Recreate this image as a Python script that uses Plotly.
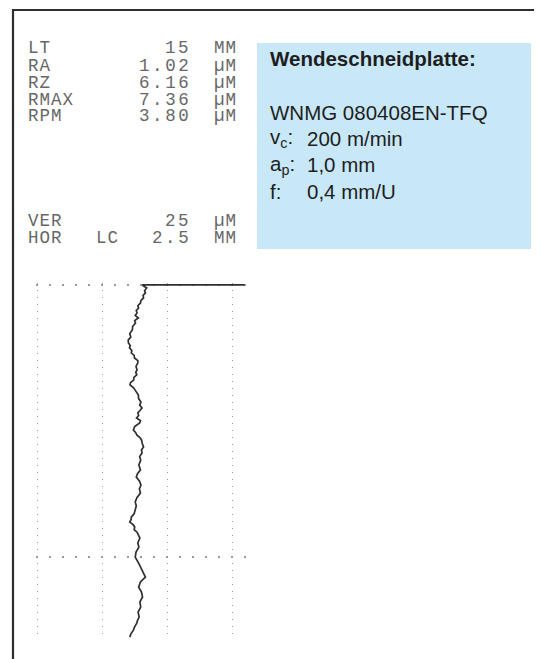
import plotly.graph_objects as go

# figure size in px
W, H = 542, 659
# the page body has an 8px default margin, so positions are shifted by it
OFF = 8

# surface profile (position along the stylus path in mm, height in µm)
profile_pos_mm = [
    0.00, 0.00, 0.13, 0.24, 0.34, 0.45, 0.55, 0.66, 0.77, 0.88, 0.98, 1.09, 1.19, 1.30,
    1.41, 1.52, 1.62, 1.77, 1.92, 2.07, 2.22, 2.35, 2.47, 2.58, 2.68, 2.79, 2.90, 3.00,
    3.11, 3.22, 3.32, 3.47, 3.62, 3.72, 3.83, 3.94, 4.05, 4.16, 4.26, 4.37, 4.47, 4.58,
    4.69, 4.84, 4.99, 5.12, 5.24, 5.35, 5.45, 5.56, 5.67, 5.78, 5.88, 6.03, 6.18, 6.29,
    6.39, 6.50, 6.60, 6.75, 6.90, 7.03, 7.16, 7.31, 7.46, 7.67, 7.88, 8.03, 8.18, 8.35,
    8.52, 8.69, 8.86, 9.05, 9.24, 9.41, 9.59, 9.74, 9.89, 10.00, 10.10, 10.21, 10.31,
    10.42, 10.53, 10.66, 10.78, 10.98, 11.17, 11.38, 11.59, 11.87, 12.14, 12.29, 12.44,
    12.65, 12.87, 13.08, 13.29, 13.50, 13.72, 13.93, 14.15, 14.28, 14.40, 14.55, 14.70,
    14.85, 15.00,
]
profile_height_um = [
    79.5, 40.3, 42.0, 41.2, 41.5, 40.6, 40.8, 39.8, 39.6, 38.6, 38.9, 38.0, 38.3, 37.6,
    38.8, 37.4, 37.7, 36.6, 36.5, 35.5, 35.9, 34.9, 35.0, 35.7, 35.4, 36.3, 36.1, 37.2,
    37.3, 38.6, 38.6, 37.9, 38.3, 37.8, 38.2, 37.1, 37.0, 35.8, 35.6, 36.9, 37.5, 38.0,
    38.8, 38.9, 39.8, 39.3, 40.2, 39.4, 38.6, 38.9, 38.1, 39.6, 39.3, 37.4, 36.9, 37.8,
    38.2, 39.4, 40.0, 40.3, 40.8, 40.0, 40.2, 39.3, 39.7, 39.0, 39.6, 38.5, 38.0, 39.2,
    39.8, 39.2, 39.6, 38.3, 37.6, 38.0, 37.4, 37.2, 36.1, 36.0, 35.5, 36.8, 37.4,
    37.2, 38.3, 38.8, 39.4, 38.6, 39.0, 37.9, 37.6, 39.0, 40.3, 40.8, 41.5,
    39.6, 38.9, 40.0, 40.4, 39.4, 39.7, 38.7, 39.1, 38.5, 38.2, 37.4, 36.9,
    36.0, 35.5,
]

# printer readout
param_labels = ["LT", "RA", "RZ", "RMAX", "RPM"]
param_values = ["15", "1.02", "6.16", "7.36", "3.80"]
param_units = ["MM", "µM", "µM", "µM", "µM"]
scale_labels = ["VER", "HOR"]
scale_values = ["25", "2.5"]
scale_units = ["µM", "MM"]

# insert data
insert_title = "Wendeschneidplatte:"
insert_type = "WNMG 080408EN-TFQ"
insert_keys = ["v<sub>c</sub>:", "a<sub>p</sub>:", "f:"]
insert_vals = ["200 m/min", "1,0 mm", "0,4 mm/U"]

grid_x_um = [0, 25, 50, 75]
grid_y_mm = [0, 11.6]


def px(x):
    return (x - OFF) / W


def py(y):
    return 1 - (y - OFF) / H


fig = go.Figure()

fig.add_trace(go.Scatter(
    x=profile_height_um, y=profile_pos_mm, mode="lines",
    line=dict(color="#2f2f2f", width=1.7),
    hoverinfo="skip", showlegend=False
))

# axes: plot area placed where the recorder grid sits
fig.update_xaxes(
    range=[-0.5, 80.2], domain=[px(35.7), px(246.5)],
    tickvals=grid_x_um, showticklabels=False, ticks="",
    showgrid=True, gridcolor="#9a9a9a", gridwidth=1.3, griddash="1px,6px",
    zeroline=False, showline=False
)
fig.update_yaxes(
    range=[15.1, -0.1], domain=[py(639.5), py(282.6)],
    tickvals=grid_y_mm, showticklabels=False, ticks="",
    showgrid=True, gridcolor="#9a9a9a", gridwidth=1.5, griddash="2px,11px",
    zeroline=False, showline=False
)

# frame lines and blue insert box
fig.add_shape(type="line", xref="paper", yref="paper",
              x0=px(12), x1=1, y0=py(10), y1=py(10),
              line=dict(color="#2e2e2e", width=2.2))
fig.add_shape(type="line", xref="paper", yref="paper",
              x0=px(13), x1=px(13), y0=py(9), y1=0,
              line=dict(color="#2e2e2e", width=2.2))
fig.add_shape(type="rect", xref="paper", yref="paper",
              x0=px(257), x1=px(531), y0=py(249), y1=py(43),
              fillcolor="#c8e8f8", line=dict(width=0), layer="below")

mono = dict(family="Liberation Mono", size=17.5, color="#676767")


def readout(text, x, y, anchor, spacing=1):
    text = '<span style="letter-spacing:%gpx">%s</span>' % (spacing, text)
    fig.add_annotation(text=text, x=px(x), y=py(y),
                       xref="paper", yref="paper", xanchor=anchor, yanchor="middle",
                       showarrow=False, font=mono)


row_y = [48, 66, 83, 100, 116]
for lab, val, unit, y in zip(param_labels, param_values, param_units, row_y):
    readout(lab, 26, y, "left")
    readout(val, 193, y, "right", 2.6)
    readout(unit, 212, y, "left")

scale_y = [221, 238]
for lab, val, unit, y in zip(scale_labels, scale_values, scale_units, scale_y):
    readout(lab, 26, y, "left")
    readout(val, 193, y, "right", 2.6)
    readout(unit, 212, y, "left")
readout("LC", 94, scale_y[1], "left")

sans = dict(family="Liberation Sans", size=20.5, color="#1e1e1e")
fig.add_annotation(text="<b>" + insert_title + "</b>", x=px(268), y=py(58),
                   xref="paper", yref="paper", xanchor="left", yanchor="middle",
                   showarrow=False, font=sans)
fig.add_annotation(text=insert_type, x=px(268), y=py(112),
                   xref="paper", yref="paper", xanchor="left", yanchor="middle",
                   showarrow=False, font=sans)
for i, (k, v) in enumerate(zip(insert_keys, insert_vals)):
    y = 138 + i * 26.8
    fig.add_annotation(text=k, x=px(268), y=py(y),
                       xref="paper", yref="paper", xanchor="left", yanchor="middle",
                       showarrow=False, font=sans)
    fig.add_annotation(text=v, x=px(305), y=py(y),
                       xref="paper", yref="paper", xanchor="left", yanchor="middle",
                       showarrow=False, font=sans)

fig.update_layout(
    width=W, height=H,
    margin=dict(l=0, r=0, t=0, b=0),
    paper_bgcolor="white", plot_bgcolor="white",
    showlegend=False
)

fig.write_html("out.html")
